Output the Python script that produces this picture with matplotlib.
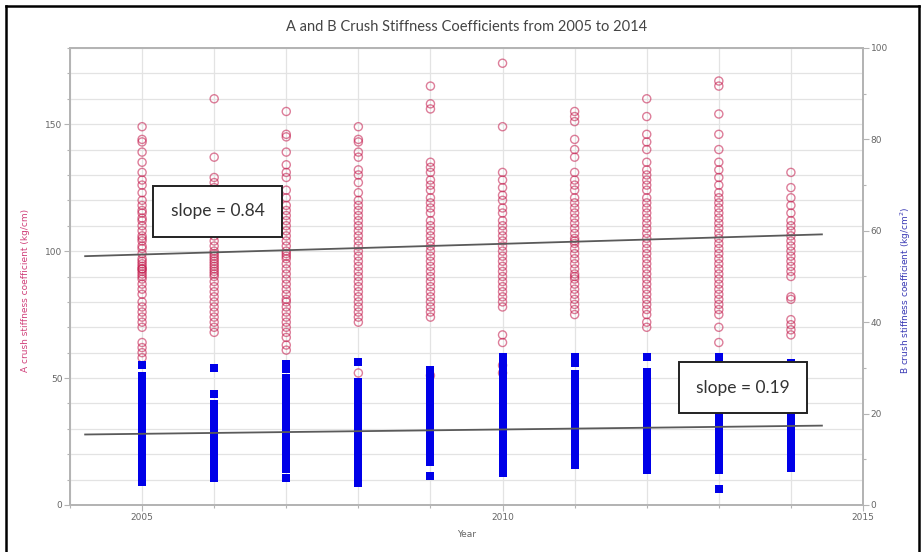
import numpy as np
import matplotlib
matplotlib.use('Agg')
import matplotlib.pyplot as plt
from matplotlib.ticker import MultipleLocator
from matplotlib.lines import Line2D

years = [2005, 2006, 2007, 2008, 2009, 2010, 2011, 2012, 2013, 2014]

# coeficiente A (kg/cm), eje izquierdo
a_2005 = [149, 144, 143, 139, 135, 131, 128, 126, 123, 120, 118, 116, 115, 113, 112, 110, 108, 106, 105, 104,
          102, 101, 99, 97, 96, 95, 94, 93, 93, 92, 91, 90, 89, 87, 85, 83, 80, 78, 76, 74, 72, 70, 64, 62, 60, 58]
a_2006 = [160, 137, 129, 127, 125, 122, 118, 115, 112, 108, 106, 104, 102, 100, 99, 98, 97, 96, 95, 94, 93,
          92, 91, 90, 88, 86, 84, 82, 80, 78, 76, 74, 72, 70, 68]
a_2007 = [155, 146, 145, 139, 134, 131, 129, 124, 121, 118, 116, 114, 112, 110, 108, 106, 104, 102, 100, 99,
          98, 97, 95, 93, 91, 89, 87, 85, 83, 81, 80, 78, 76, 74, 72, 70, 68, 66, 63, 61]
a_2008 = [149, 144, 143, 139, 137, 132, 130, 127, 123, 120, 118, 116, 114, 112, 110, 108, 106, 104, 102, 100,
          98, 96, 94, 92, 90, 88, 86, 84, 82, 80, 78, 76, 74, 72, 52]
a_2009 = [165, 158, 156, 135, 133, 131, 128, 126, 124, 121, 119, 117, 115, 112, 110, 108, 106, 104, 102, 100,
          98, 96, 94, 92, 90, 88, 86, 84, 82, 80, 78, 76, 74, 51]
a_2010 = [174, 149, 131, 128, 125, 122, 120, 117, 115, 112, 110, 108, 106, 104, 102, 100, 98, 96, 94, 92, 90,
          88, 86, 84, 82, 80, 78, 67, 64, 55, 52]
a_2011 = [155, 153, 151, 144, 140, 137, 131, 128, 126, 124, 121, 119, 117, 115, 113, 111, 109, 107, 105, 104,
          103, 101, 99, 97, 95, 93, 91, 90, 89, 87, 85, 83, 81, 79, 77, 75]
a_2012 = [160, 153, 146, 143, 140, 135, 132, 130, 128, 126, 124, 121, 119, 117, 115, 113, 111, 109, 107, 105,
          103, 101, 99, 97, 95, 93, 91, 89, 87, 85, 83, 81, 79, 77, 75, 72, 70]
a_2013 = [167, 165, 154, 146, 140, 135, 132, 129, 126, 123, 121, 119, 117, 115, 113, 111, 109, 107, 105, 103,
          101, 99, 97, 95, 93, 91, 89, 87, 85, 83, 81, 79, 77, 75, 70, 64]
a_2014 = [131, 125, 121, 118, 115, 112, 110, 108, 106, 104, 102, 100, 98, 96, 94, 92, 90, 82, 81, 73, 71, 69, 67]

# coeficiente B (kg/cm2), eje derecho
b_2005 = [30.6, 28.2, 26.6, 25.5, 24.5, 23.5, 22.5, 21.5, 20.5, 19.5, 18.5, 17.5, 16.5, 15.5, 14.5, 13.5, 12.5,
          11.5, 10.5, 9.5, 8.5, 7.5, 6.5, 5.5, 5.0]
b_2006 = [30.0, 24.2, 22.0, 21.0, 20.0, 19.0, 18.0, 17.0, 16.0, 15.0, 14.0, 13.0, 12.0, 11.0, 10.0, 9.4,
          7.8, 6.8, 6.0]
b_2007 = [30.8, 29.8, 27.8, 26.8, 25.8, 24.8, 23.6, 21.8, 20.8, 19.8, 18.8, 17.8, 16.8, 15.8, 14.8, 13.8, 12.8,
          11.8, 10.8, 9.8, 8.8, 7.8, 6.0]
b_2008 = [31.3, 27.0, 26.0, 25.0, 24.0, 23.0, 22.0, 21.0, 20.0, 19.0, 18.0, 17.0, 16.0, 15.0, 14.0, 13.0, 12.0,
          11.0, 10.0, 9.0, 8.4, 6.5, 4.8]
b_2009 = [29.5, 28.5, 27.5, 26.5, 25.5, 24.5, 23.5, 22.4, 20.8, 19.8, 18.8, 17.8, 16.8, 15.8, 14.8, 13.8, 12.8,
          11.8, 10.8, 9.8, 9.4, 6.3]
b_2010 = [32.3, 31.3, 30.3, 29.0, 27.8, 26.8, 25.8, 24.8, 23.8, 22.8, 21.8, 20.8, 19.8, 18.8, 17.8, 16.8, 15.8,
          14.8, 13.8, 12.8, 11.8, 10.8, 9.8, 8.8, 7.8, 7.0]
b_2011 = [32.3, 31.0, 28.6, 27.6, 26.6, 25.6, 24.6, 23.6, 22.6, 21.6, 20.6, 19.6, 18.6, 17.6, 16.6, 15.6, 14.6,
          13.6, 12.6, 11.6, 10.6, 9.6, 8.8]
b_2012 = [32.3, 29.0, 28.0, 27.0, 26.0, 25.0, 24.0, 23.0, 22.0, 21.0, 20.0, 19.0, 18.0, 17.0, 16.0, 15.0, 14.0,
          13.0, 12.0, 11.0, 10.0, 9.0, 8.2, 7.7]
b_2013 = [32.3, 31.3, 30.3, 29.3, 28.3, 27.3, 26.3, 25.3, 24.3, 23.3, 22.3, 21.3, 20.3, 19.3, 18.3, 17.3, 16.3,
          15.3, 14.3, 13.3, 12.3, 11.3, 10.3, 9.3, 8.3, 7.7, 3.6]
b_2014 = [31.0, 30.0, 29.0, 28.0, 27.0, 26.0, 25.0, 24.0, 23.0, 22.0, 21.0, 20.0, 19.0, 18.0, 17.0, 16.0, 15.0,
          14.0, 13.0, 12.0, 11.0, 10.0, 9.0, 8.0]

a_values = [a_2005, a_2006, a_2007, a_2008, a_2009, a_2010, a_2011, a_2012, a_2013, a_2014]
b_values = [b_2005, b_2006, b_2007, b_2008, b_2009, b_2010, b_2011, b_2012, b_2013, b_2014]

# rectas de tendencia: pendiente y valor en el centro
slope_a, mid_a = 0.84, 102.3
slope_b, mid_b = 0.19, 16.4
x_mid = 2009.32
x_fit = np.array([2004.21, 2014.43])

fig = plt.figure(figsize=(9.21, 5.52), dpi=100)
ax = fig.add_axes([70 / 921, 1 - 505 / 552, 793 / 921, 457 / 552])
ax2 = ax.twinx()

grid_col = '#e3e3e3'
spine_col = '#b4b4b4'
tick_col = '#666666'

ax.set_xlim(2004, 2015)
ax.set_ylim(0, 180)
ax2.set_ylim(0, 100)

ax.xaxis.set_major_locator(MultipleLocator(5))
ax.xaxis.set_minor_locator(MultipleLocator(1))
ax.yaxis.set_major_locator(MultipleLocator(50))
ax.yaxis.set_minor_locator(MultipleLocator(10))
ax2.yaxis.set_major_locator(MultipleLocator(20))
ax2.yaxis.set_minor_locator(MultipleLocator(10))

ax.grid(True, which='both', axis='x', color=grid_col, lw=0.9)
ax.grid(True, which='both', axis='y', color=grid_col, lw=0.9)
ax.set_axisbelow(True)

for a in (ax, ax2):
    for sp in a.spines.values():
        sp.set_color(spine_col)
        sp.set_linewidth(1.3)
    a.tick_params(which='major', direction='out', length=4, width=0.8, color=spine_col,
                  labelsize=6.5, labelcolor=tick_col, pad=1.5)
    a.tick_params(which='minor', direction='out', length=2.5, width=0.8, color=spine_col)

for y, vals in zip(years, a_values):
    ax.scatter([y] * len(vals), vals, s=34, facecolors='none',
               edgecolors=(0.76, 0.08, 0.28, 0.55), linewidths=1.0, zorder=3)

for y, vals in zip(years, b_values):
    ax2.scatter([y] * len(vals), vals, s=28, marker='s', color='#0000e8', linewidths=0, zorder=3)

ax.plot(x_fit, mid_a + slope_a * (x_fit - x_mid), color='#5a5a5a', lw=1.3, zorder=4)
ax2.plot(x_fit, mid_b + slope_b * (x_fit - x_mid), color='#5a5a5a', lw=1.3, zorder=4)

box = dict(boxstyle='square,pad=1.0', facecolor='white', edgecolor='#222222', lw=1.4)
ax2.text(0.186, 0.643, 'slope = 0.84', transform=ax2.transAxes, ha='center', va='center',
         fontsize=12.5, family='Lato', color='#333333', bbox=box, zorder=10)
ax2.text(0.849, 0.257, 'slope = 0.19', transform=ax2.transAxes, ha='center', va='center',
         fontsize=12.5, family='Lato', color='#333333', bbox=box, zorder=10)

ax.set_title('A and B Crush Stiffness Coefficients from 2005 to 2014', fontsize=10.5,
             family='Lato', color='#444444', pad=12)
ax.set_xlabel('Year', fontsize=6.5, color=tick_col, labelpad=6)
ax.set_ylabel('A crush stiffness coefficient (kg/cm)', fontsize=6.5, color='#d0407a')
ax.yaxis.set_label_coords(-0.05, 0.47)
ax2.set_ylabel('B crush stiffness coefficient (kg/cm$^2$)', fontsize=6.5, color='#3b3bb5', rotation=90)
ax2.yaxis.set_label_coords(1.045, 0.47)

# marco exterior
for xs, ys in (([6 / 921, 6 / 921], [0, 1 - 6 / 552]),
               ([6 / 921, 919 / 921], [1 - 6 / 552, 1 - 6 / 552]),
               ([919 / 921, 919 / 921], [0, 1 - 6 / 552])):
    fig.add_artist(Line2D(xs, ys, color='black', lw=1.8))

plt.savefig('out.png', dpi=100)
plt.close()
